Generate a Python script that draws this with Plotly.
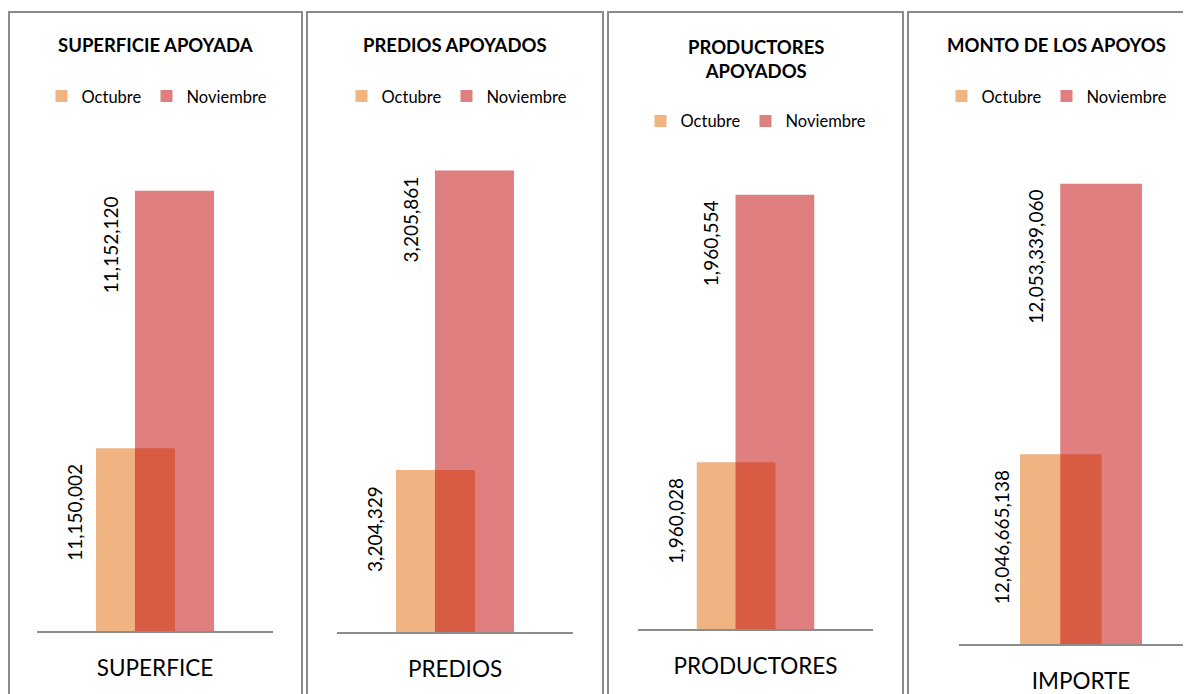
import plotly.graph_objects as go

# ---- data ----
titles = ["SUPERFICIE APOYADA", "PREDIOS APOYADOS", "PRODUCTORES<br>APOYADOS", "MONTO DE LOS APOYOS"]
categories = ["SUPERFICE", "PREDIOS", "PRODUCTORES", "IMPORTE"]
series_names = ["Octubre", "Noviembre"]
octubre = [11150002, 3204329, 1960028, 12046665138]
noviembre = [11152120, 3205861, 1960554, 12053339060]

# ---- layout helpers (reference-window pixels; page body has an 8px margin) ----
OFF = 8
W, H = 1191 - OFF, 694 - OFF
def px(v):
    return (v - OFF) / W
def py(v):
    return 1 - (v - OFF) / H
def pyc(v):
    # small vertical correction for the plot areas
    return py(13 + (v - 13) * 1.0057)

panel_rects = [(9, 302), (307, 603), (608, 903), (908, 1197)]
x_domains = [(37, 273), (337, 573), (638, 873), (959, 1191)]
x_ranges = [(-0.5, 0.5), (-0.5, 0.5), (-0.5, 0.5), (-0.5, 0.451)]
baselines = [632, 633, 630, 645]
plot_top = 140
y_ranges = [(11148500, 11152539), (3203500, 3206018), (1959700, 1960662),
             (12041986000, 12054422657)]
title_y = [45, 45, 59, 45]
title_x = [155, 455, 756, 1056]
legend_y = [97, 97, 122, 97]
legend_x = [157, 457, 756, 1057]

ORANGE = "rgb(240,180,131)"
RED = "rgba(193,9,11,0.52)"
FONT = "Lato"

fig = go.Figure()
annotations = []
shapes = []
for i in range(4):
    sfx = "" if i == 0 else str(i + 1)
    xa, ya = "x" + sfx, "y" + sfx
    lg = "legend" + sfx
    fig.add_trace(go.Bar(x=[categories[i]], y=[octubre[i]], name=series_names[0],
                         marker=dict(color=ORANGE, line=dict(width=0)),
                         width=0.335, offset=-0.25, xaxis=xa, yaxis=ya,
                         legend=lg, hoverinfo="skip"))
    fig.add_trace(go.Bar(x=[categories[i]], y=[noviembre[i]], name=series_names[1],
                         marker=dict(color=RED, line=dict(width=0)),
                         width=0.335, offset=-0.085, xaxis=xa, yaxis=ya,
                         legend=lg, hoverinfo="skip"))
    x0, x1 = x_domains[i]
    fig.update_layout(**{
        "xaxis" + sfx: dict(domain=[px(x0), min(1, px(x1))], range=list(x_ranges[i]),
                            anchor=ya, showline=True, linecolor="#8c8c8c", linewidth=2,
                            showgrid=False, zeroline=False, ticks="",
                            ticklabelstandoff=16,
                            tickfont=dict(family=FONT, size=22.5, color="#000000"),
                            fixedrange=True),
        "yaxis" + sfx: dict(domain=[pyc(baselines[i]), pyc(plot_top)],
                            range=list(y_ranges[i]), anchor=xa, visible=False,
                            fixedrange=True),
        lg: dict(orientation="h", x=px(legend_x[i]), y=py(legend_y[i]),
                 xanchor="center", yanchor="middle", bgcolor="rgba(0,0,0,0)",
                 font=dict(family=FONT, size=16.5, color="#000000"),
                 itemclick=False, itemdoubleclick=False),
    })
    # title
    annotations.append(dict(text="<b>" + titles[i] + "</b>", x=px(title_x[i]), y=py(title_y[i]),
                            xref="paper", yref="paper", showarrow=False,
                            xanchor="center", yanchor="middle",
                            font=dict(family=FONT, size=18.5, color="#000000")))
    # data labels
    for val, xs, ys in ((octubre[i], -80, -14), (noviembre[i], -45, -4)):
        annotations.append(dict(text=f"{val:,}", x=categories[i], y=val, xref=xa, yref=ya,
                                showarrow=False, textangle=-90, xanchor="center",
                                yanchor="top", xshift=xs, yshift=ys,
                                font=dict(family=FONT, size=19, color="#000000")))
    # panel border
    a, b = panel_rects[i]
    shapes.append(dict(type="rect", xref="paper", yref="paper",
                       x0=px(a), x1=px(b), y0=py(705), y1=py(12),
                       line=dict(color="#8a8a8a", width=2), fillcolor="rgba(0,0,0,0)",
                       layer="below"))

fig.update_layout(width=W, height=H, margin=dict(l=0, r=0, t=0, b=0),
                  paper_bgcolor="white", plot_bgcolor="rgba(0,0,0,0)",
                  barmode="overlay", annotations=annotations, shapes=shapes,
                  font=dict(family=FONT))
fig.write_html("out.html", config={"displayModeBar": False})
